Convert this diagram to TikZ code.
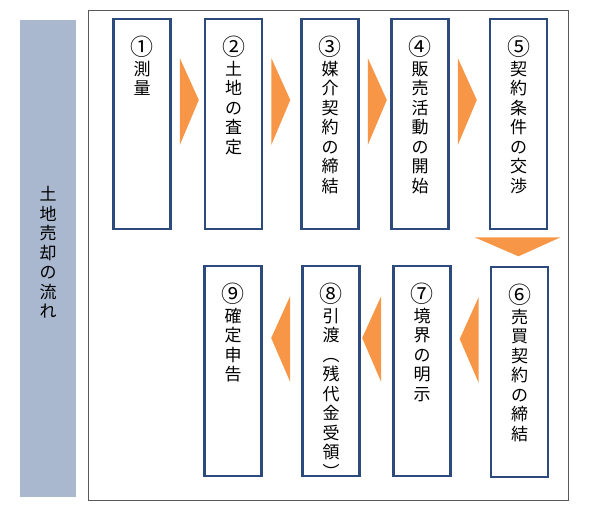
\documentclass[tikz,border=0pt]{standalone}
\usepackage{fontspec}
\newfontfamily\jp{Noto Sans CJK JP}
\usetikzlibrary{positioning}
\definecolor{navy}{HTML}{2C4A7C}
\definecolor{barblue}{HTML}{A9B8CF}
\definecolor{arroworange}{HTML}{F79646}
\newcommand{\num}[1]{{\fontsize{23}{19.5}\selectfont #1}}
\begin{document}
\begin{tikzpicture}[x=1pt,y=-1pt,
  stepbox/.style={rectangle,draw=navy,line width=2.6pt,fill=white,minimum width=57pt,minimum height=210pt},
  steptext/.style={anchor=north,align=center,font=\jp\fontsize{17}{19.5}\selectfont},
  arr/.style={fill=arroworange}]
  \useasboundingbox (0,0) rectangle (600,506);
  % left bar and frame
  \fill[barblue] (20,20) rectangle (76,497);
  \node[steptext] (title) at (48,183) {土\\地\\売\\却\\の\\流\\れ};
  \draw[gray!70!black,line width=0.8pt] (88,10) rectangle (568,500);
  % first row
  \node[stepbox] (s1) at (142,124) {};
  \node[stepbox] (s2) at (233.5,124) {};
  \node[stepbox] (s3) at (330,124) {};
  \node[stepbox] (s4) at (420,124) {};
  \node[stepbox] (s5) at (518.5,124) {};
  % second row
  \node[stepbox] (s6) at (519.5,372) {};
  \node[stepbox] (s7) at (422,371) {};
  \node[stepbox] (s8) at (331,371) {};
  \node[stepbox] (s9) at (233,371) {};
  \foreach \n/\t in {1/\num{①}\\測\\量, 2/\num{②}\\土\\地\\の\\査\\定, 3/\num{③}\\媒\\介\\契\\約\\の\\締\\結,
    4/\num{④}\\販\\売\\活\\動\\の\\開\\始, 5/\num{⑤}\\契\\約\\条\\件\\の\\交\\渉, 6/\num{⑥}\\売\\買\\契\\約\\の\\締\\結,
    7/\num{⑦}\\境\\界\\の\\明\\示, 8/\num{⑧}\\引\\渡\\︵\\残\\代\\金\\受\\領\\︶, 9/\num{⑨}\\確\\定\\申\\告}
    \node[steptext] (t\n) at ([yshift=-15]s\n.north) {\t};
  % arrows
  \foreach \a/\b in {1/2,2/3,3/4,4/5}
    \fill[arr] ([xshift=8,yshift=66]s\a.east) -- ([xshift=27,yshift=24]s\a.east) -- ([xshift=8,yshift=-21]s\a.east) -- cycle;
  \fill[arr] ([xshift=-44,yshift=-7]s5.south) -- ([xshift=42,yshift=-7]s5.south) -- ([yshift=-26]s5.south) -- cycle;
  \foreach \a/\b in {6/7,7/8,8/9}
    \fill[arr] ([xshift=-11,yshift=75]s\a.west) -- ([xshift=-30,yshift=33]s\a.west) -- ([xshift=-11,yshift=-11]s\a.west) -- cycle;
\end{tikzpicture}
\end{document}
